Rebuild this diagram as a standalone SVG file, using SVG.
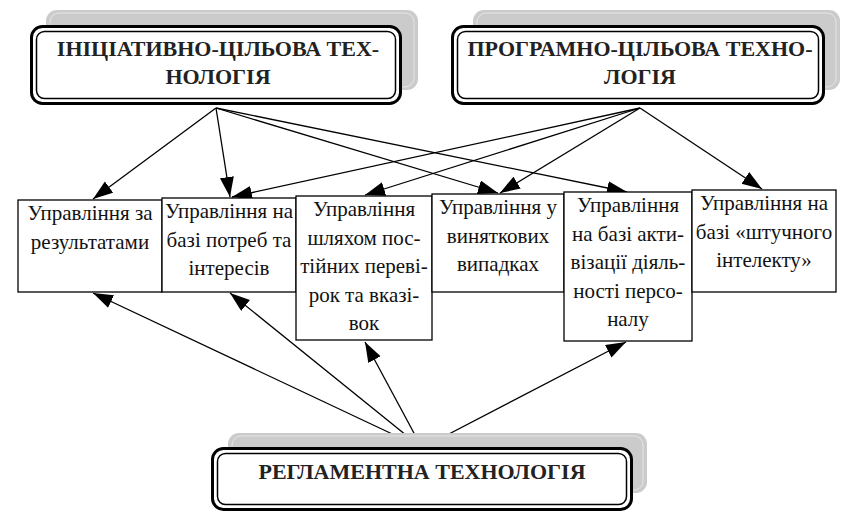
<svg xmlns="http://www.w3.org/2000/svg" width="847" height="512" viewBox="0 0 847 512">
<style>
.sh{fill:#cbcbcb;stroke:none}
.shi{fill:none;stroke:#ececec;stroke-width:0.8}
.ob{fill:#fff;stroke:#000;stroke-width:3}
.ib{fill:none;stroke:#000;stroke-width:1.5}
.bx{fill:#fff;stroke:#000;stroke-width:1.3}
.ht{font-weight:bold;font-size:22px;fill:#222;text-anchor:middle}
.bt{font-size:21px;fill:#111;text-anchor:middle}
.cn{stroke:#000;stroke-width:1.3;fill:none;marker-end:url(#ah)}
</style>
<defs>
<marker id="ah" markerUnits="userSpaceOnUse" markerWidth="22" markerHeight="16" refX="20" refY="7" orient="auto">
<path d="M0,0 L20,7 L0,14 z" fill="#000"/>
</marker>
</defs>
<rect width="847" height="512" fill="#fff"/>
<g id="connectors">
<line class="cn" x1="216" y1="108" x2="93" y2="199"/>
<line class="cn" x1="216" y1="108" x2="230" y2="197"/>
<line class="cn" x1="216" y1="108" x2="498" y2="193"/>
<line class="cn" x1="216" y1="108" x2="627" y2="192"/>
<line class="cn" x1="640" y1="108" x2="232" y2="197"/>
<line class="cn" x1="640" y1="108" x2="365" y2="195"/>
<line class="cn" x1="640" y1="108" x2="500" y2="193"/>
<line class="cn" x1="640" y1="108" x2="762" y2="189"/>
<line class="cn" x1="422" y1="448" x2="93" y2="293"/>
<line class="cn" x1="422" y1="448" x2="230" y2="293"/>
<line class="cn" x1="422" y1="448" x2="365" y2="342"/>
<line class="cn" x1="422" y1="448" x2="626" y2="342"/>
</g>
<g id="initiative">
<rect class="sh" x="46" y="10" width="372" height="80" rx="11"/>
<rect class="shi" x="50" y="13" width="364" height="74" rx="9"/>
<rect class="ob" x="31.5" y="26.5" width="369" height="77" rx="11"/>
<rect class="ib" x="36.5" y="31.5" width="359" height="67" rx="8"/>
<text class="ht" font-family="Liberation Serif" x="218" y="56">ІНІЦІАТИВНО-ЦІЛЬОВА ТЕХ-</text>
<text class="ht" font-family="Liberation Serif" x="218" y="84">НОЛОГІЯ</text>
</g>
<g id="program">
<rect class="sh" x="473" y="10" width="367" height="80" rx="11"/>
<rect class="shi" x="477" y="13" width="359" height="74" rx="9"/>
<rect class="ob" x="452.5" y="26.5" width="371" height="77" rx="11"/>
<rect class="ib" x="457.5" y="31.5" width="361" height="67" rx="8"/>
<text class="ht" font-family="Liberation Serif" x="640" y="56">ПРОГРАМНО-ЦІЛЬОВА ТЕХНО-</text>
<text class="ht" font-family="Liberation Serif" x="640" y="84">ЛОГІЯ</text>
</g>
<g id="regulatory">
<rect class="sh" x="228" y="433" width="419" height="60" rx="11"/>
<rect class="shi" x="232" y="436" width="411" height="54" rx="9"/>
<rect class="ob" x="212.5" y="448.5" width="419" height="61" rx="11"/>
<rect class="ib" x="217.5" y="453.5" width="409" height="51" rx="8"/>
<text class="ht" font-family="Liberation Serif" x="422" y="479">РЕГЛАМЕНТНА ТЕХНОЛОГІЯ</text>
</g>
<g id="box1">
<rect class="bx" x="18" y="200" width="144" height="92"/>
<text class="bt" font-family="Liberation Serif" x="90" y="220">Управління за</text>
<text class="bt" font-family="Liberation Serif" x="90" y="248.5">результатами</text>
</g>
<g id="box2">
<rect class="bx" x="162" y="198" width="134" height="94"/>
<text class="bt" font-family="Liberation Serif" x="229" y="218">Управління на</text>
<text class="bt" font-family="Liberation Serif" x="229" y="246.5">базі потреб та</text>
<text class="bt" font-family="Liberation Serif" x="229" y="275">інтересів</text>
</g>
<g id="box3">
<rect class="bx" x="296" y="196" width="136" height="144"/>
<text class="bt" font-family="Liberation Serif" x="364" y="216">Управління</text>
<text class="bt" font-family="Liberation Serif" x="364" y="244.5">шляхом пос-</text>
<text class="bt" font-family="Liberation Serif" x="364" y="273">тійних переві-</text>
<text class="bt" font-family="Liberation Serif" x="364" y="301.5">рок та вказі-</text>
<text class="bt" font-family="Liberation Serif" x="364" y="330">вок</text>
</g>
<g id="box4">
<rect class="bx" x="432" y="194" width="132" height="98"/>
<text class="bt" font-family="Liberation Serif" x="498" y="214">Управління у</text>
<text class="bt" font-family="Liberation Serif" x="498" y="242.5">виняткових</text>
<text class="bt" font-family="Liberation Serif" x="498" y="271">випадках</text>
</g>
<g id="box5">
<rect class="bx" x="564" y="192" width="128" height="149"/>
<text class="bt" font-family="Liberation Serif" x="628" y="212">Управління</text>
<text class="bt" font-family="Liberation Serif" x="628" y="240.5">на базі акти-</text>
<text class="bt" font-family="Liberation Serif" x="628" y="269">візації діяль-</text>
<text class="bt" font-family="Liberation Serif" x="628" y="297.5">ності персо-</text>
<text class="bt" font-family="Liberation Serif" x="628" y="326">налу</text>
</g>
<g id="box6">
<rect class="bx" x="692" y="190" width="144" height="102"/>
<text class="bt" font-family="Liberation Serif" x="764" y="210">Управління на</text>
<text class="bt" font-family="Liberation Serif" x="764" y="238.5">базі «штучного</text>
<text class="bt" font-family="Liberation Serif" x="764" y="267">інтелекту»</text>
</g>
</svg>
